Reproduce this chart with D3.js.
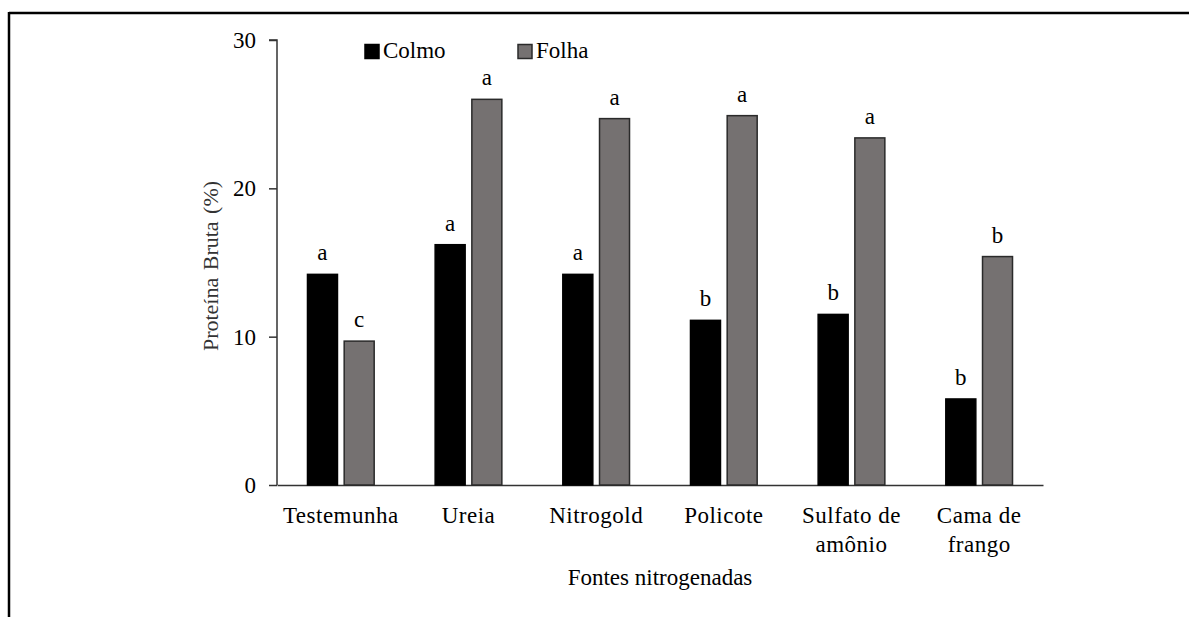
<!DOCTYPE html>
<html>
<head>
<meta charset="utf-8">
<script src="https://cdn.jsdelivr.net/npm/d3@7"></script>
<style>
  html, body { margin: 0; padding: 0; background: #fff; }
  svg { display: block; }
  text { font-family: "Liberation Serif", "DejaVu Serif", serif; fill: #000; }
</style>
</head>
<body>
<svg id="chart" width="1189" height="617"></svg>
<script>
const categories = [["Testemunha"], ["Ureia"], ["Nitrogold"], ["Policote"], ["Sulfato de", "amônio"], ["Cama de", "frango"]];
const seriesNames = ["Colmo", "Folha"];
const colmo = [14.2, 16.2, 14.2, 11.1, 11.5, 5.8];
const folha = [9.7, 26.0, 24.7, 24.9, 23.4, 15.4];
const colmoLetters = ["a", "a", "a", "b", "b", "b"];
const folhaLetters = ["c", "a", "a", "a", "a", "b"];
const yTicks = [0, 10, 20, 30];

const svg = d3.select("#chart");
const W = 1189, H = 617;
const m = { left: 277, right: 1043, top: 40, bottom: 485 };
const fs = 23;

// Frame (top and left edges)
svg.append("line").attr("x1", 9).attr("x2", W).attr("y1", 13).attr("y2", 13)
  .attr("stroke", "#000").attr("stroke-width", 2.5);
svg.append("line").attr("x1", 9).attr("x2", 9).attr("y1", 12).attr("y2", H)
  .attr("stroke", "#000").attr("stroke-width", 2.5);

const x0 = d3.scaleBand().domain(categories.map((d, i) => i)).range([m.left, m.right]).padding(0);
const barW = 30, gap = 6.7;
const y = d3.scaleLinear().domain([0, 30]).range([m.bottom, m.top]);

// Y axis
const yAxis = d3.axisLeft(y).tickValues(yTicks).tickSize(8).tickPadding(13).tickFormat(d3.format("d"));
const gy = svg.append("g").attr("transform", `translate(${m.left},0)`).call(yAxis);
gy.select(".domain").attr("stroke", "#333").attr("stroke-width", 1.5).attr("d", `M-8,${m.top}H0V${m.bottom}`);
gy.selectAll(".tick line").attr("stroke", "#333").attr("stroke-width", 1.5);
gy.selectAll(".tick text").attr("font-size", fs).attr("font-family", "Liberation Serif").attr("fill", "#000");

// X axis line
const xAxis = d3.axisBottom(x0).tickSize(0).tickFormat("");
const gx = svg.append("g").attr("transform", `translate(0,${m.bottom})`).call(xAxis);
gx.select(".domain").attr("stroke", "#333").attr("stroke-width", 1.5);
gx.selectAll(".tick text").remove();

// Category labels
categories.forEach((lines, i) => {
  const cx = x0(i) + x0.bandwidth() / 2;
  const t = svg.append("text").attr("x", cx).attr("y", 523).attr("text-anchor", "middle")
    .attr("font-size", fs).attr("letter-spacing", 0.5);
  lines.forEach((l, j) => t.append("tspan").attr("x", cx).attr("dy", j === 0 ? 0 : 29).text(l));
});

// Bars
const data = categories.map((c, i) => ({ i, vals: [colmo[i], folha[i]], letters: [colmoLetters[i], folhaLetters[i]] }));
const fills = ["#000000", "#757171"];
const strokes = ["#000000", "#2a2a2a"];
data.forEach(d => {
  const cx = x0(d.i) + x0.bandwidth() / 2;
  d.vals.forEach((v, k) => {
    const bx = k === 0 ? cx - gap / 2 - barW : cx + gap / 2;
    svg.append("rect").attr("x", bx).attr("y", y(v)).attr("width", barW).attr("height", y(0) - y(v))
      .attr("fill", fills[k]).attr("stroke", strokes[k]).attr("stroke-width", 1.5);
    svg.append("text").attr("x", bx + barW / 2).attr("y", y(v) - 14).attr("text-anchor", "middle")
      .attr("font-size", fs).text(d.letters[k]);
  });
});

// Legend
const legendX = [365, 518];
seriesNames.forEach((s, k) => {
  svg.append("rect").attr("x", legendX[k]).attr("y", 44.5).attr("width", 14).attr("height", 14)
    .attr("fill", fills[k]).attr("stroke", strokes[k]).attr("stroke-width", 1.5);
  svg.append("text").attr("x", legendX[k] + 18).attr("y", 58).attr("font-size", fs).text(s);
});

// Axis titles
svg.append("text").attr("x", (m.left + m.right) / 2).attr("y", 585).attr("text-anchor", "middle")
  .attr("font-size", fs).text("Fontes nitrogenadas");
svg.append("text").attr("transform", `translate(218,266) rotate(-90)`).attr("text-anchor", "middle")
  .attr("font-size", 22).style("fill", "#333").attr("word-spacing", 2).text("Proteína Bruta (%)");
</script>
</body>
</html>
